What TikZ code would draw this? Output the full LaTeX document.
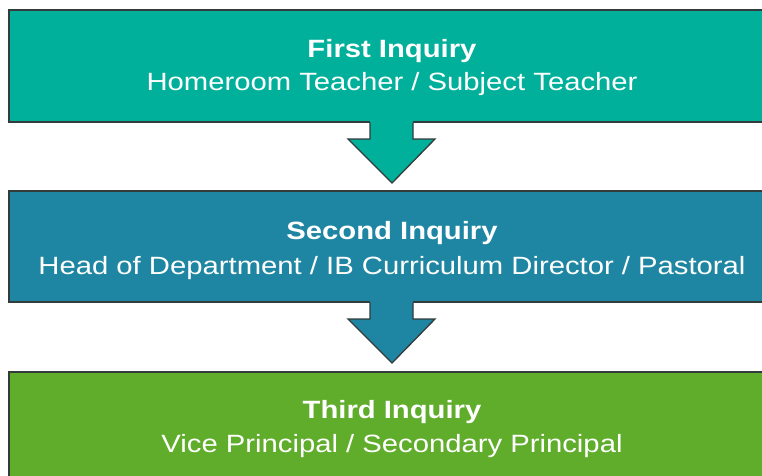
\documentclass[tikz,border=0pt]{standalone}
\usepackage{fontspec}
\setmainfont{Liberation Sans}
\definecolor{cteal}{HTML}{00B09A}
\definecolor{cblue}{HTML}{1E86A2}
\definecolor{cgreen}{HTML}{60AD2C}
\definecolor{cedge}{HTML}{333B3B}
\newcommand{\wide}[1]{\scalebox{1.17}[1]{#1}}
\begin{document}
\begin{tikzpicture}[x=1pt,y=-1pt,
  stagebox/.style={draw=cedge,line width=1.3pt},
  flowarrow/.style={draw=cedge,line width=1.3pt,line join=miter},
  title/.style={anchor=base,text=white,font=\fontsize{25}{29}\selectfont\bfseries,inner sep=0pt},
  sub/.style={anchor=base,text=white,font=\fontsize{25}{29}\selectfont,inner sep=0pt}]
\useasboundingbox (0,0) rectangle (762,475);
\clip (0,0) rectangle (762,475);
% boxes
\path[stagebox,fill=cteal] (9,10) rectangle (780,122);
\path[stagebox,fill=cblue] (9,191) rectangle (780,302);
\path[stagebox,fill=cgreen] (9,372) rectangle (780,490);
% arrow 1
\fill[cteal] (370,120) -- (370,139) -- (348,139) -- (392,183) -- (435,139) -- (413,139) -- (413,120) -- cycle;
\draw[flowarrow] (370,122.6) -- (370,139) -- (348,139) -- (392,183) -- (435,139) -- (413,139) -- (413,122.6);
% arrow 2
\fill[cblue] (370,300) -- (370,319) -- (348,319) -- (392,363) -- (435,319) -- (413,319) -- (413,300) -- cycle;
\draw[flowarrow] (370,302.6) -- (370,319) -- (348,319) -- (392,363) -- (435,319) -- (413,319) -- (413,302.6);
% texts
\node[title] (t1) at (392,57) {\wide{First Inquiry}};
\node[sub] (s1) at (392,90) {\wide{Homeroom Teacher / Subject Teacher}};
\node[title] (t2) at (392,239) {\wide{Second Inquiry}};
\node[sub] (s2) at (392,274) {\wide{Head of Department / IB Curriculum Director / Pastoral}};
\node[title] (t3) at (392,418) {\wide{Third Inquiry}};
\node[sub] (s3) at (392,452) {\wide{Vice Principal / Secondary Principal}};
\end{tikzpicture}
\end{document}
